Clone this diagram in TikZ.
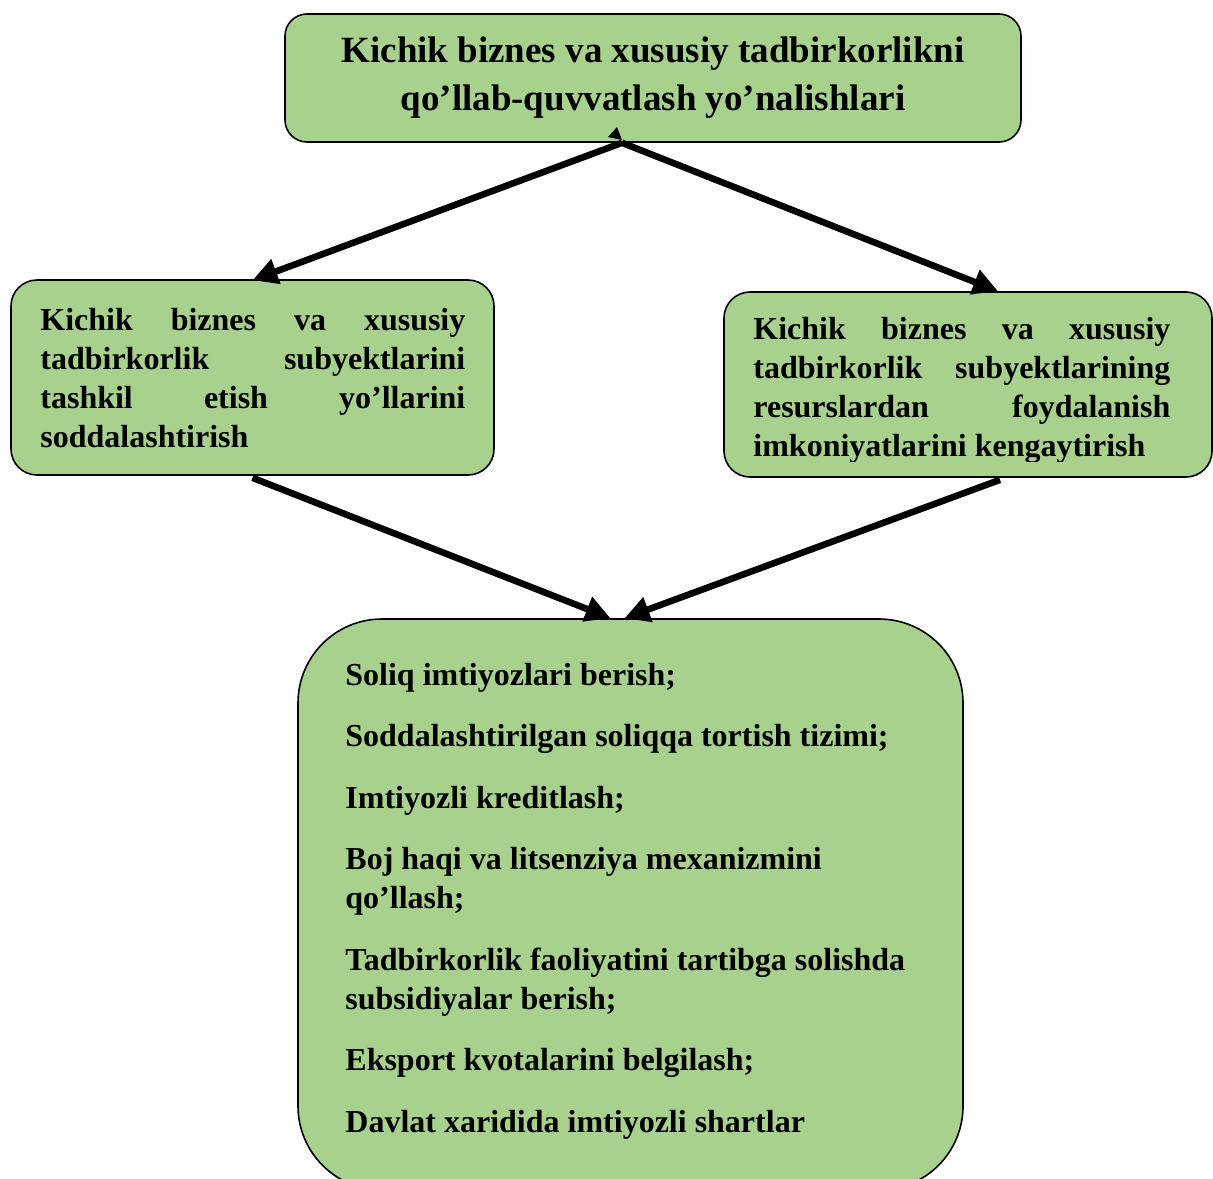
\documentclass[tikz,border=0pt]{standalone}
\usepackage{fontspec}
\setmainfont{Liberation Serif}
\usetikzlibrary{arrows.meta}
\definecolor{boxgreen}{HTML}{A9D18E}
\tikzset{
  box/.style={draw=black, line width=0.8pt, fill=boxgreen, inner sep=0pt},
  txt/.style={font=\fontsize{16}{19.6}\selectfont\bfseries, inner sep=0pt},
  jtxt/.style={txt, align=justify, anchor=base west},
  arr/.style={line width=3.3pt, -{Triangle[length=12.5pt,width=12.5pt]}},
}
\begin{document}
\begin{tikzpicture}[x=0.5pt,y=-0.5pt]
\useasboundingbox (0,0) rectangle (1213,1178);
% boxes
\node[box, rounded corners=11pt, minimum width=368pt, minimum height=64pt,
      align=center, font=\fontsize{18.5}{24}\selectfont\bfseries] (top) at (653,78)
      {Kichik biznes va xususiy tadbirkorlikni\\qo’llab-quvvatlash yo’nalishlari};
\node[box, rounded corners=13pt, minimum width=241.5pt, minimum height=97.5pt] (lbox) at (252.5,377.5) {};
\node[box, rounded corners=13pt, minimum width=244pt, minimum height=92.5pt] (rbox) at (968,384.5) {};
\node[box, rounded corners=42pt, minimum width=332.5pt, minimum height=285.5pt] (bbox) at (630.5,904.5) {};
% texts of side boxes
\node[jtxt, text width=212.5pt] (ltxt) at (40,330)
  {Kichik biznes va xususiy\linebreak tadbirkorlik subyektlarini\linebreak tashkil etish yo’llarini\linebreak soddalashtirish};
\begin{scope}
\clip (700,285) rectangle (1213,461);
\node[jtxt, text width=208.5pt] (rtxt) at (753,339)
  {Kichik biznes va xususiy\linebreak tadbirkorlik subyektlarining\linebreak resurslardan foydalanish\linebreak imkoniyatlarini kengaytirish};
\end{scope}
% list items
\node[txt, anchor=base west] (i1) at (345,685) {Soliq imtiyozlari berish;};
\node[txt, anchor=base west] (i2) at (345,746.5) {Soddalashtirilgan soliqqa tortish tizimi;};
\node[txt, anchor=base west] (i3) at (345,808) {Imtiyozli kreditlash;};
\node[txt, anchor=base west] (i4) at (345,869.5) {Boj haqi va litsenziya mexanizmini};
\node[txt, anchor=base west] (i4b) at (345,908.5) {qo’llash;};
\node[txt, anchor=base west] (i5) at (345,970) {Tadbirkorlik faoliyatini tartibga solishda};
\node[txt, anchor=base west] (i5b) at (345,1009) {subsidiyalar berish;};
\node[txt, anchor=base west] (i6) at (345,1070.5) {Eksport kvotalarini belgilash;};
\node[txt, anchor=base west] (i7) at (345,1132) {Davlat xaridida imtiyozli shartlar};
% connectors
\coordinate (s0) at ([xshift=-15.5pt]top.south);
\draw[arr] (s0) -- ([yshift=-0.5pt]lbox.north);
\draw[arr] (s0) -- ([xshift=15pt]rbox.north);
\draw[arr] ([yshift=-1pt]lbox.south) -- ([xshift=-10pt]bbox.north);
\draw[arr] ([xshift=16pt,yshift=-1pt]rbox.south) -- ([xshift=-3pt]bbox.north);
\fill (608,137) -- (617,127) -- (622,140) -- cycle;
\end{tikzpicture}
\end{document}
